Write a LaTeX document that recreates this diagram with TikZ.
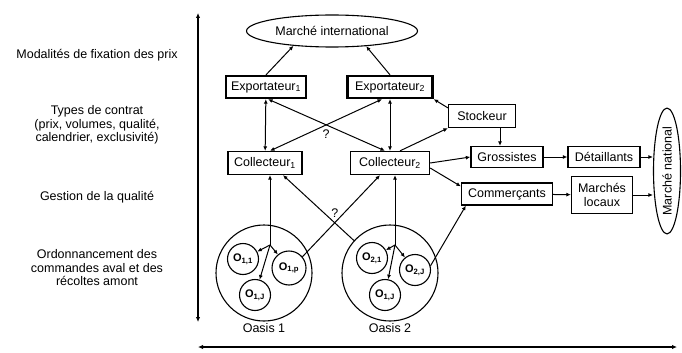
\documentclass[tikz,border=0pt]{standalone}
\usepackage{fontspec}
\setmainfont{Liberation Sans}
\usetikzlibrary{arrows.meta,positioning,shapes.geometric}
\tikzset{
  box/.style={draw, line width=1.3pt, minimum height=22, inner sep=1pt},
  bigbox/.style={box, line width=2.3pt},
  oasis/.style={draw, circle, line width=1.1pt, minimum size=96, inner sep=0pt},
  farm/.style={draw, circle, line width=1.1pt, minimum size=31, inner sep=0pt, font=\fontsize{11}{12}\selectfont\bfseries},
  link/.style={line width=1pt, -{Latex[length=4.5pt,width=4pt]}},
  dlink/.style={line width=1pt, {Latex[length=4.5pt,width=4pt]}-{Latex[length=4.5pt,width=4pt]}},
  axis/.style={line width=1.4pt, {Latex[length=5pt,width=4.5pt]}-{Latex[length=5pt,width=4.5pt]}},
}
\begin{document}
\begin{tikzpicture}[x=1pt, y=-1pt, font=\fontsize{12.5}{13.5}\selectfont]
  \useasboundingbox (0,0) rectangle (682,353);
  % axes
  \coordinate (ytop) at (198,13);
  \coordinate (ybot) at (198,322);
  \coordinate (xleft) at (198,347);
  \coordinate (xright) at (677,347);
  \draw[axis] (ytop) -- (ybot);
  \draw[axis] (xleft) -- (xright);
  % left labels
  \node[align=center] (prix) at (97,55) {Modalités de fixation des prix};
  \node[align=center] (contrat) at (97,125) {Types de contrat\\(prix, volumes, qualité,\\calendrier, exclusivité)};
  \node[align=center] (qualite) at (97,197) {Gestion de la qualité};
  \node[align=center] (ordo) at (97,268) {Ordonnancement des\\commandes aval et des\\récoltes amont};
  % markets
  \node[draw, ellipse, line width=1.1pt, minimum width=171, minimum height=32] (inter) at (332,31) {Marché international};
  \node[draw, ellipse, line width=1.1pt, rotate=90, minimum width=117, minimum height=27, inner sep=0pt] (natl) at (667,171) {Marché national};
  % actors
  \node[bigbox, minimum width=80] (exp1) at (266,87) {Exportateur\textsubscript{1}};
  \node[bigbox, minimum width=85] (exp2) at (390,87) {Exportateur\textsubscript{2}};
  \node[box, minimum width=74, minimum height=23] (coll1) at (265,163) {Collecteur\textsubscript{1}};
  \node[box, minimum width=79, minimum height=23] (coll2) at (390,163) {Collecteur\textsubscript{2}};
  \node[box, minimum width=67, minimum height=23] (stock) at (482,116) {Stockeur};
  \node[box, minimum width=72, minimum height=21] (gros) at (507,157) {Grossistes};
  \node[box, minimum width=72, minimum height=21] (detail) at (604,157) {Détaillants};
  \node[box, minimum width=91] (comm) at (507,194) {Commerçants};
  \node[box, minimum width=61, minimum height=37, align=center] (locaux) at (602,195) {Marchés\\locaux};
  % oases
  \node[oasis] (oasis1) at (264,273) {};
  \node[oasis] (oasis2) at (390,273) {};
  \node[below=1pt of oasis1, inner sep=1pt] (lab1) {Oasis 1};
  \node[below=1pt of oasis2, inner sep=1pt] (lab2) {Oasis 2};
  \node[farm] (o11) at (243,259) {O\textsubscript{1,1}};
  \node[farm, minimum size=34] (o1p) at (289,268) {O\textsubscript{1,p}};
  \node[farm] (o1j) at (255,295) {O\textsubscript{1,J}};
  \node[farm] (o21) at (372,258) {O\textsubscript{2,1}};
  \node[farm] (o2j) at (415,270) {O\textsubscript{2,J}};
  \node[farm] (o2b) at (385,295) {O\textsubscript{1,J}};
  \coordinate (j1) at (270,245);
  \coordinate (j2) at (395,245);
  % links to the international market
  \draw[link] (exp1.north) -- (inter.201);
  \draw[link] (exp2.north) -- (inter.-24);
  % exporters and collectors
  \draw[dlink] (exp1) -- (coll1);
  \draw[dlink] (exp2) -- (coll2);
  \draw[dlink] ([xshift=2pt]exp1.south) -- ([xshift=-5pt]coll2.north);
  \draw[dlink] ([xshift=-8pt]exp2.south) -- node[below=1pt] {?} ([xshift=5pt]coll1.north);
  \draw[link] ([yshift=-4pt]stock.north west) -- (exp2.south east);
  \draw[link] ([xshift=10pt]coll2.north) -- (stock.south west);
  \draw[link] ([xshift=-7pt]gros.north |- stock.south) -- ([xshift=-7pt]gros.north);
  \draw[link] (coll2.east) -- (gros.west);
  \draw[link] ([yshift=-5pt]coll2.east) -- ([yshift=-4pt]comm.north west);
  % local trade
  \draw[link] (gros) -- (detail);
  \draw[link] (comm) -- (locaux);
  \draw[link] (detail.east) -- (detail.east -| natl.north);
  \draw[link] (locaux.east) -- (locaux.east -| natl.north);
  % from the oases
  \draw[link] (j1) -- (j1 |- coll1.south);
  \draw[link] (j1) -- (o11);
  \draw[link] (j1) -- (o1p);
  \draw[link] (j1) -- (o1j);
  \draw[link] (j2) -- (j2 |- coll2.south);
  \draw[link] (j2) -- (o21);
  \draw[link] (j2) -- (o2j);
  \draw[link] (j2) -- (o2b);
  \draw[link] (o1p.40) -- ([xshift=-10pt]coll2.south);
  \draw[link] (oasis2.138) -- node[pos=0.27, above=2pt] {?} ([xshift=18pt]coll1.south);
  \draw[link] (o2j.15) -- ([xshift=5pt]comm.south west);
\end{tikzpicture}
\end{document}
